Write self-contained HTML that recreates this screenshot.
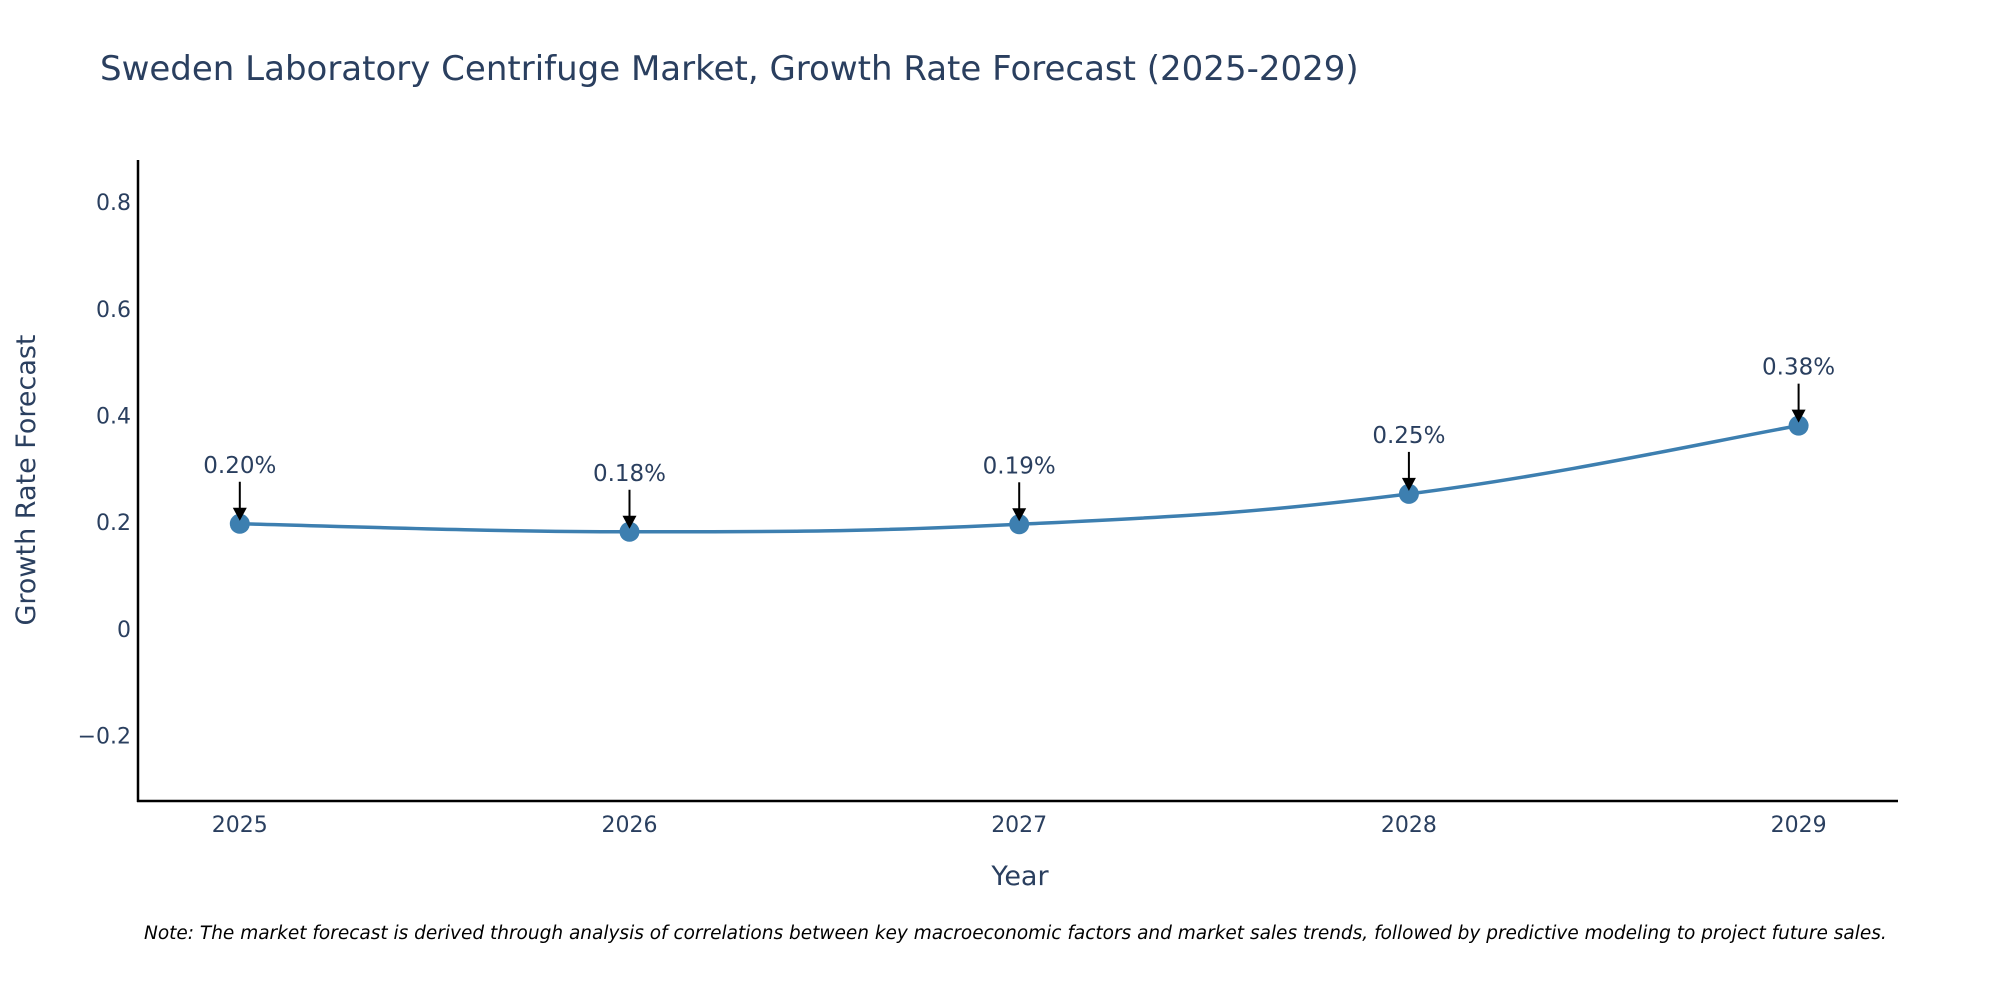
<!DOCTYPE html>
<html><head><meta charset="utf-8"><style>
body{margin:0;background:#fff;overflow:hidden;}
svg{display:block;font-family:"DejaVu Sans","Liberation Sans",sans-serif;}
</style></head><body>
<svg id="chart" width="2000" height="1000" viewBox="0 0 2000 1000">
<text x="100" y="80" font-size="34" fill="#2a3f5f">Sweden Laboratory Centrifuge Market, Growth Rate Forecast (2025-2029)</text>
<g id="yticks"></g>
<g id="xticks"></g>
<line x1="138" y1="160" x2="138" y2="802" stroke="#000" stroke-width="2.5"/>
<line x1="137" y1="801" x2="1898" y2="801" stroke="#000" stroke-width="2.5"/>
<path id="line" fill="none" stroke="#3d7fb0" stroke-width="3.5"/>
<g id="marks"></g>
<text x="1020" y="885" font-size="27" fill="#2a3f5f" text-anchor="middle">Year</text>
<text transform="translate(35,480) rotate(-90)" font-size="27" fill="#2a3f5f" text-anchor="middle">Growth Rate Forecast</text>
<text x="144" y="939" font-size="18.5" font-style="italic" fill="#000">Note: The market forecast is derived through analysis of correlations between key macroeconomic factors and market sales trends, followed by predictive modeling to project future sales.</text>
</svg>
<script>
const years=[2025,2026,2027,2028,2029];
const values=[0.197,0.182,0.196,0.253,0.381];
const labels=["0.20%","0.18%","0.19%","0.25%","0.38%"];
const yTicks=[-0.2,0,0.2,0.4,0.6,0.8];
const yTickLabels=["\u22120.2","0","0.2","0.4","0.6","0.8"];
const NS="http://www.w3.org/2000/svg";
const xS=v=>239.8+(v-2025)*389.7;
const yS=v=>628.8-v*533.2;
function mk(tag,attrs,parent){const e=document.createElementNS(NS,tag);for(const k in attrs)e.setAttribute(k,attrs[k]);parent.appendChild(e);return e;}
const yt=document.getElementById('yticks');
yTicks.forEach((t,i)=>{const e=mk('text',{x:131,y:yS(t)+8,'font-size':22,fill:'#2a3f5f','text-anchor':'end'},yt);e.textContent=yTickLabels[i];

});
const xt=document.getElementById('xticks');
years.forEach(y=>{const e=mk('text',{x:xS(y),y:832,'font-size':22,fill:'#2a3f5f','text-anchor':'middle'},xt);e.textContent=y;

});
const pts=years.map((y,i)=>[xS(y),yS(values[i])]);
let d=`M${pts[0][0]},${pts[0][1]}`;
for(let i=0;i<pts.length-1;i++){const p0=pts[Math.max(0,i-1)],p1=pts[i],p2=pts[i+1],p3=pts[Math.min(pts.length-1,i+2)];const s=0.2;
d+=` C${p1[0]+(p2[0]-p0[0])*s},${p1[1]+(p2[1]-p0[1])*s} ${p2[0]-(p3[0]-p1[0])*s},${p2[1]-(p3[1]-p1[1])*s} ${p2[0]},${p2[1]}`;}
document.getElementById('line').setAttribute('d',d);
const g=document.getElementById('marks');
pts.forEach((p,i)=>{
const c=mk('circle',{cx:p[0],cy:p[1],r:10,fill:'#3d7fb0'},g);


const l=mk('line',{x1:p[0],y1:p[1]-42,x2:p[0],y2:p[1]-14,stroke:'#000','stroke-width':2},g);


const h=mk('polygon',{points:`${p[0]-7},${p[1]-16} ${p[0]+7},${p[1]-16} ${p[0]},${p[1]-3}`,fill:'#000'},g);


const t=mk('text',{x:p[0],y:p[1]-51,'font-size':23,fill:'#2a3f5f','text-anchor':'middle'},g);t.textContent=labels[i];


});
</script>
</body></html>
